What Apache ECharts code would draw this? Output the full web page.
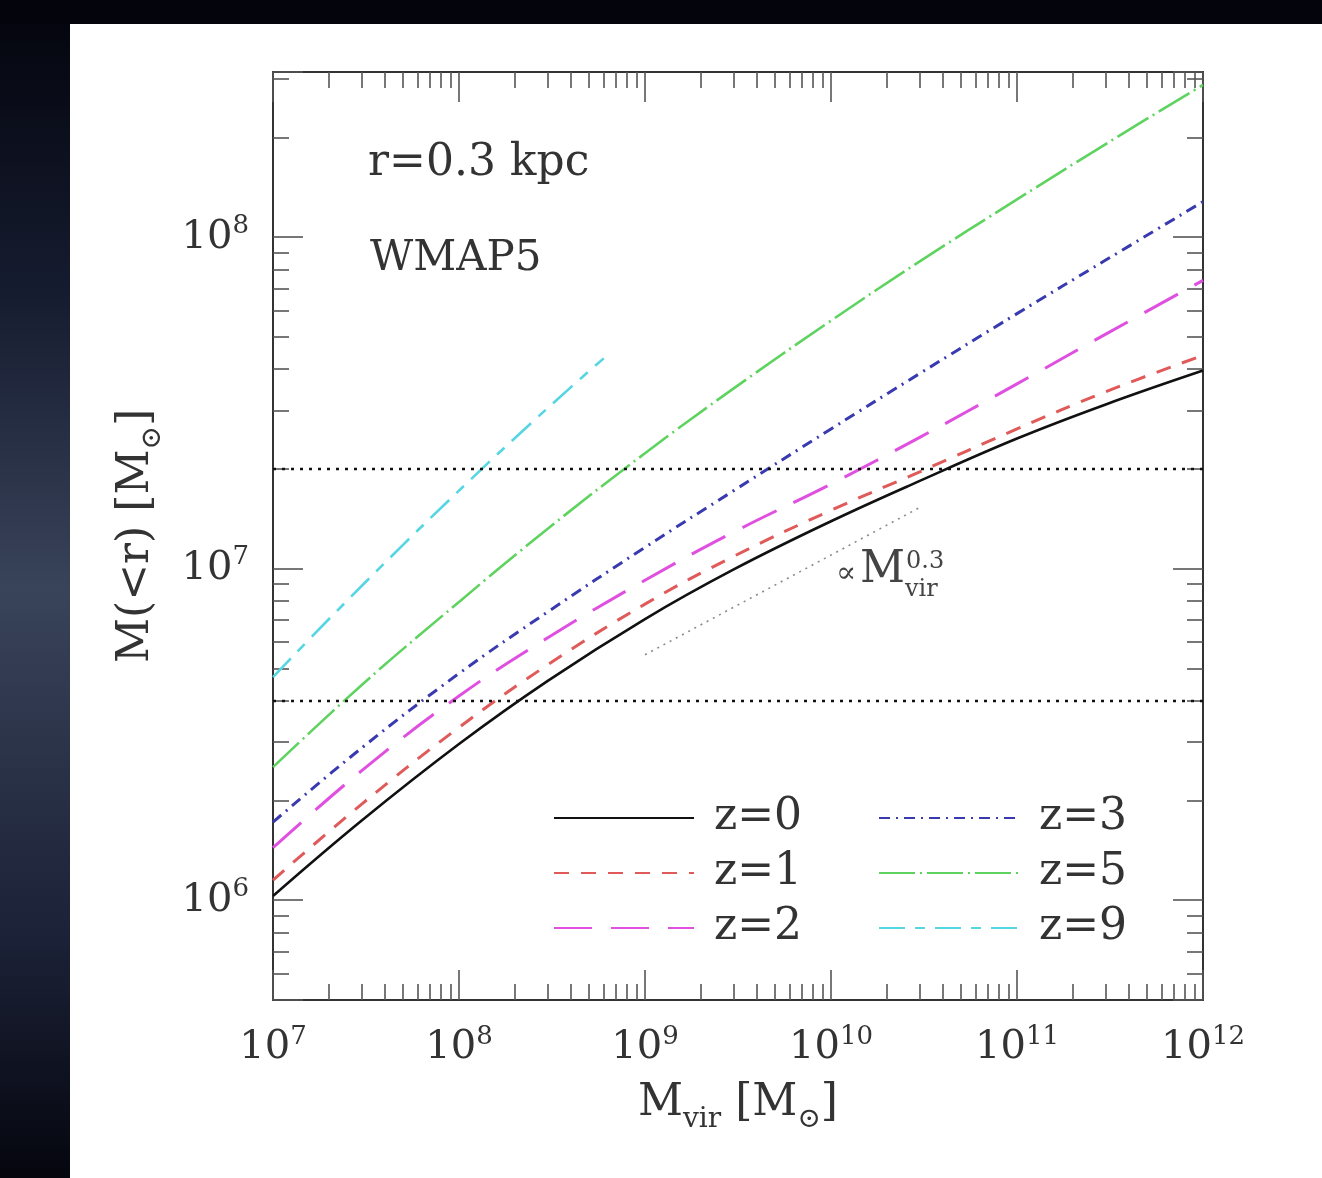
<!DOCTYPE html>
<html lang="en">
<head>
<meta charset="UTF-8">
<title>M(&lt;r) at r=0.3 kpc</title>
<script src="https://cdn.jsdelivr.net/npm/echarts@6/dist/echarts.min.js"></script>
<style>
  html, body { margin: 0; padding: 0; background: #fff; }
  #main { width: 1322px; height: 1178px; }
</style>
</head>
<body>
<div id="main"></div>
<script>
const chart = echarts.init(document.getElementById('main'));

// halo mass grid (M_sun) shared by the z = 0..5 curves
const massGrid = [1e7, 3e7, 1e8, 3e8, 1e9, 3e9, 1e10, 3e10, 1e11, 3e11, 1e12];
const z0 = [1.03e6, 1.74e6, 2.96e6, 4.59e6, 7.05e6, 9.95e6, 1.39e7, 1.84e7, 2.47e7, 3.13e7, 3.96e7];
const z1 = [1.15e6, 1.95e6, 3.32e6, 5.13e6, 7.82e6, 1.09e7, 1.50e7, 1.96e7, 2.64e7, 3.42e7, 4.40e7];
const z2 = [1.44e6, 2.46e6, 4.13e6, 6.19e6, 9.23e6, 1.29e7, 1.80e7, 2.49e7, 3.61e7, 5.10e7, 7.41e7];
const z3 = [1.72e6, 2.88e6, 4.83e6, 7.41e6, 1.16e7, 1.72e7, 2.64e7, 3.88e7, 5.88e7, 8.53e7, 1.28e8];
const z5 = [2.52e6, 4.46e6, 7.94e6, 1.32e7, 2.23e7, 3.50e7, 5.60e7, 8.45e7, 1.30e8, 1.91e8, 2.88e8];
// z = 9 only covers the low-mass end
const z9Mass = [1e7, 2e7, 5e7, 1e8, 2e8, 4e8, 6e8];
const z9 = [4.71e6, 7.05e6, 1.18e7, 1.72e7, 2.48e7, 3.53e7, 4.31e7];

// horizontal dotted reference levels and the M^0.3 guide
const levels = [2e7, 4e6];
const guideMass = [1e9, 3e10];
const guideValue = [5.5e6, 1.53e7];

const xRange = [1e7, 1e12];
const yRange = [5e5, 3.15e8];
const minorSteps = [2, 3, 4, 5, 6, 7, 8, 9];

const font = 'DejaVu Serif';
const ink = '#333';

function minorTicks(lo, hi) {
  const out = [];
  for (let e = Math.floor(Math.log10(lo)); e <= Math.ceil(Math.log10(hi)); e++) {
    minorSteps.forEach(k => {
      const v = k * Math.pow(10, e);
      if (v > lo && v < hi) out.push(Math.log10(v));
    });
  }
  return out;
}

function powLabel(v) {
  const e = Math.round(Math.log10(v));
  if (Math.abs(Math.log10(v) - e) > 1e-6) return '';
  return '{b|10}{s|' + e + '}';
}

const labelRich = {
  b: { fontFamily: font, fontSize: 40, lineHeight: 48, color: ink },
  s: { fontFamily: font, fontSize: 26, lineHeight: 26, verticalAlign: 'top', color: ink }
};
const nameRich = {
  m: { fontFamily: font, fontSize: 44, lineHeight: 60, color: ink },
  s: { fontFamily: font, fontSize: 28, lineHeight: 28, verticalAlign: 'bottom', color: ink }
};

const frameLine = { show: true, onZero: false, lineStyle: { color: '#333', width: 2 } };
const tickStyle = { color: '#555', width: 1.6 };

function majorAxis(range, position, withLabels) {
  return {
    type: 'log', logBase: 10, min: range[0], max: range[1], position: position,
    axisLine: frameLine,
    axisTick: { show: true, inside: true, length: 30, lineStyle: tickStyle },
    axisLabel: withLabels ? { show: true, formatter: powLabel, rich: labelRich, margin: 24 } : { show: false },
    splitLine: { show: false }
  };
}

function minorAxis(range, position) {
  return {
    type: 'value', min: Math.log10(range[0]), max: Math.log10(range[1]), position: position,
    axisLine: { show: false, onZero: false },
    axisTick: { show: true, inside: true, length: 16, lineStyle: tickStyle, customValues: minorTicks(range[0], range[1]) },
    axisLabel: { show: false },
    splitLine: { show: false }
  };
}

const xMain = majorAxis(xRange, 'bottom', true);
xMain.name = '{m|M}{s|vir}{m| [M}{s|⊙}{m|]}';
xMain.nameLocation = 'middle';
xMain.nameGap = 74;
xMain.nameTextStyle = { rich: nameRich };

const yMain = majorAxis(yRange, 'left', true);
yMain.name = '{m|M(<r) [M}{s|⊙}{m|]}';
yMain.nameLocation = 'middle';
yMain.nameGap = 106;
yMain.nameTextStyle = { rich: nameRich };

const curves = [
  { name: 'z=0', mass: massGrid, value: z0, color: '#111111', width: 2.6, type: 'solid' },
  { name: 'z=1', mass: massGrid, value: z1, color: '#e05a5a', width: 3, type: [15, 12] },
  { name: 'z=2', mass: massGrid, value: z2, color: '#e050e0', width: 3, type: [38, 19] },
  { name: 'z=3', mass: massGrid, value: z3, color: '#3a3ab0', width: 3, type: [11, 6, 2, 6] },
  { name: 'z=5', mass: massGrid, value: z5, color: '#5fd35f', width: 2.6, type: [36, 5, 2, 5] },
  { name: 'z=9', mass: z9Mass, value: z9, color: '#55d6e2', width: 2.6, type: [26, 10, 10, 10] }
];

const series = curves.map(c => ({
  name: c.name,
  type: 'line',
  data: c.mass.map((m, i) => [m, c.value[i]]),
  symbol: 'none',
  showSymbol: false,
  smooth: 0.4,
  lineStyle: { color: c.color, width: c.width, type: c.type },
  itemStyle: { color: c.color },
  emphasis: { disabled: true },
  animation: false,
  z: 4
}));

series.push({
  name: 'guide',
  type: 'line',
  data: guideMass.map((m, i) => [m, guideValue[i]]),
  symbol: 'none',
  lineStyle: { color: '#8a8a8a', width: 1.6, type: [2, 5] },
  emphasis: { disabled: true },
  animation: false,
  z: 2,
  markLine: {
    silent: true,
    symbol: ['none', 'none'],
    label: { show: false },
    lineStyle: { color: '#111', width: 2.4, type: [3, 6] },
    data: levels.map(v => ({ yAxis: v })),
    animation: false
  }
});

const legendBase = {
  orient: 'vertical',
  top: 795,
  padding: 0,
  itemWidth: 140,
  itemHeight: 46,
  itemGap: 9,
  selectedMode: false,
  itemStyle: { color: 'transparent', borderWidth: 0, opacity: 0 },
  textStyle: { fontFamily: font, fontSize: 44, lineHeight: 46, color: ink, padding: [0, 0, 0, 15] }
};

chart.setOption({
  backgroundColor: '#ffffff',
  animation: false,
  grid: { left: 273, right: 119, top: 72, bottom: 178, outerBoundsMode: 'none' },
  xAxis: [xMain, majorAxis(xRange, 'top', false), minorAxis(xRange, 'bottom'), minorAxis(xRange, 'top')],
  yAxis: [yMain, majorAxis(yRange, 'right', false), minorAxis(yRange, 'left'), minorAxis(yRange, 'right')],
  legend: [
    Object.assign({}, legendBase, { left: 553, data: ['z=0', 'z=1', 'z=2'] }),
    Object.assign({}, legendBase, { left: 878, data: ['z=3', 'z=5', 'z=9'] })
  ],
  graphic: [
    {
      type: 'rect', silent: true, z: -10,
      shape: { x: 0, y: 0, width: 70, height: 1178 },
      style: {
        fill: new echarts.graphic.LinearGradient(0, 0, 0, 1, [
          { offset: 0, color: '#03040c' },
          { offset: 0.25, color: '#161c30' },
          { offset: 0.5, color: '#394359' },
          { offset: 0.8, color: '#1b2136' },
          { offset: 1, color: '#05060e' }
        ])
      }
    },
    { type: 'rect', silent: true, z: -9, shape: { x: 0, y: 0, width: 1322, height: 24 }, style: { fill: '#03040c' } },
    { type: 'text', x: 368, y: 164, style: { text: 'r=0.3 kpc', fontFamily: font, fontSize: 44, fill: ink, verticalAlign: 'middle' } },
    { type: 'text', x: 370, y: 259, style: { text: 'WMAP5', fontFamily: font, fontSize: 42, fill: ink, verticalAlign: 'middle' } },
    { type: 'text', x: 836, y: 574, style: { text: '∝', fontFamily: font, fontSize: 30, fill: '#444', verticalAlign: 'middle' } },
    { type: 'text', x: 860, y: 571, style: { text: 'M', fontFamily: font, fontSize: 44, fill: '#444', verticalAlign: 'middle' } },
    { type: 'text', x: 906, y: 562, style: { text: '0.3', fontFamily: font, fontSize: 24, fill: '#444', verticalAlign: 'middle' } },
    { type: 'text', x: 905, y: 590, style: { text: 'vir', fontFamily: font, fontSize: 24, fill: '#444', verticalAlign: 'middle' } }
  ],
  series: series
});
</script>
</body>
</html>
